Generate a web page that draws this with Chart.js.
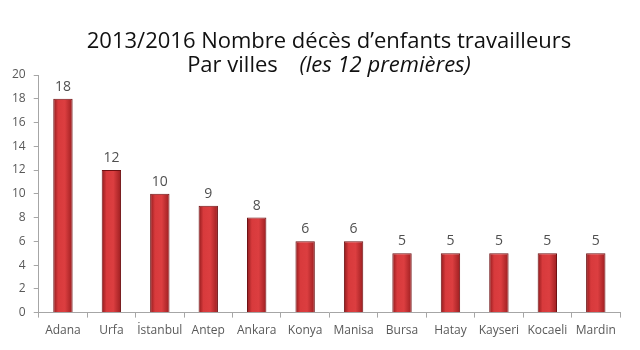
<!DOCTYPE html>
<html>
<head>
<meta charset="utf-8">
<script src="https://cdn.jsdelivr.net/npm/chart.js@4.4.0/dist/chart.umd.min.js"></script>
<style>
  body { margin: 0; background: #fff; }
  #wrap { position: relative; width: 640px; height: 350px; }
  #title {
    position: absolute; left: 0; top: 27px; width: 640px;
    text-align: center; font-family: "Open Sans", sans-serif;
    font-size: 22px; line-height: 24px; color: #111;
    padding-left: 18px; box-sizing: border-box;
  }
  #title i { margin-left: 16px; }
</style>
</head>
<body>
<div id="wrap">
  <canvas id="deathsChart" width="640" height="350"></canvas>
  <div id="title">2013/2016 Nombre décès d’enfants travailleurs<br>Par villes <i>(les 12 premières)</i></div>
</div>
<script>
const cities = ["Adana", "Urfa", "İstanbul", "Antep", "Ankara", "Konya", "Manisa", "Bursa", "Hatay", "Kayseri", "Kocaeli", "Mardin"];
const deaths = [18, 12, 10, 9, 8, 6, 6, 5, 5, 5, 5, 5];
const yTicks = [0, 2, 4, 6, 8, 10, 12, 14, 16, 18, 20];

// shade each bar left-to-right like the original 3D-ish bars
const barShading = {
    id: "barShading",
    beforeDatasetsDraw(chart) {
        const c = chart.ctx;
        chart.getDatasetMeta(0).data.forEach(bar => {
            const l = bar.x - bar.width / 2;
            const g = c.createLinearGradient(l, 0, l + bar.width, 0);
            g.addColorStop(0, "#8f1a1c");
            g.addColorStop(0.25, "#d83a3c");
            g.addColorStop(0.6, "#dc3e40");
            g.addColorStop(1, "#9c1e20");
            bar.options.backgroundColor = g;
        });
    }
};

// value labels above the bars
const valueLabels = {
    id: "valueLabels",
    afterDatasetsDraw(chart) {
        const c = chart.ctx;
        c.save();
        c.font = "14px 'Open Sans', sans-serif";
        c.fillStyle = "#505050";
        c.textAlign = "center";
        c.textBaseline = "bottom";
        chart.getDatasetMeta(0).data.forEach((bar, i) => {
            c.fillText(deaths[i], bar.x, bar.y - 5);
        });
        c.restore();
    }
};

new Chart(document.getElementById("deathsChart"), {
    type: "bar",
    data: {
        labels: cities,
        datasets: [{
            data: deaths,
            backgroundColor: () => "#c8292c",
            borderColor: "#6e1012",
            borderWidth: 1,
            categoryPercentage: 1,
            barPercentage: 0.4
        }]
    },
    options: {
        responsive: false,
        animation: false,
        layout: { padding: { top: 75, left: 4, right: 20, bottom: 6 } },
        plugins: {
            legend: { display: false },
            tooltip: { enabled: false }
        },
        scales: {
            x: {
                grid: { drawOnChartArea: false, tickLength: 5, color: "#a6a6a6", offset: true },
                border: { color: "#a6a6a6" },
                ticks: { color: "#595959", font: { family: "Open Sans", size: 12 }, padding: 6, maxRotation: 0, autoSkip: false }
            },
            y: {
                min: 0,
                max: 20,
                afterBuildTicks: axis => { axis.ticks = yTicks.map(v => ({ value: v })); },
                grid: { drawOnChartArea: false, tickLength: 5, color: "#a6a6a6" },
                border: { color: "#a6a6a6" },
                ticks: { color: "#595959", font: { family: "Open Sans", size: 12 }, padding: 8 }
            }
        }
    },
    plugins: [barShading, valueLabels]
});
</script>
</body>
</html>
